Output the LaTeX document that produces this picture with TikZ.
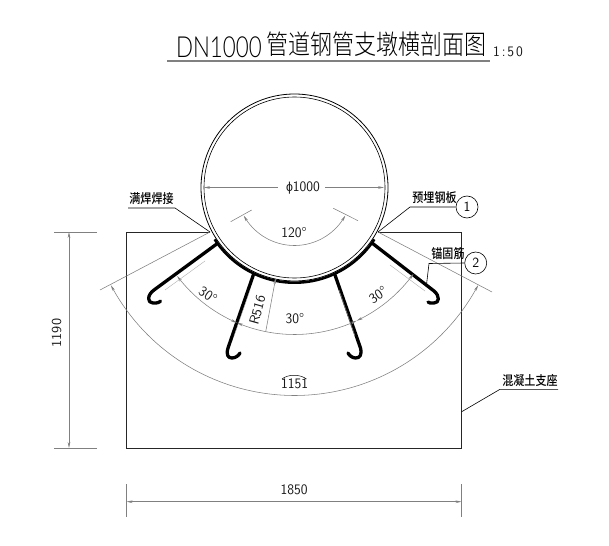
\documentclass[tikz,border=0pt]{standalone}
\usepackage{fontspec}
\usetikzlibrary{arrows.meta}
\newfontfamily\cjkmed{Noto Sans CJK SC Medium}
\newfontfamily\cjklight{Noto Sans CJK SC Light}
\newfontfamily\latlight{Lato Light}
\newfontfamily\libs{Liberation Sans}
\tikzset{
  dimline/.style={draw=black!50,line width=0.55pt},
  dimarr/.style={dimline,{Stealth[length=6pt,width=2.6pt]}-{Stealth[length=6pt,width=2.6pt]}},
  dimone/.style={dimline,-{Stealth[length=6pt,width=2.6pt]}},
  leader/.style={draw=black,line width=0.6pt},
  outline/.style={draw=black!85,line width=0.8pt},
  rebar/.style={draw=black,line width=3.3pt,line cap=round,line join=round},
  rebarcore/.style={draw=black!35,line width=0.35pt},
  dimtext/.style={font=\sffamily\fontsize{14.5}{15}\selectfont,inner sep=0pt,xscale=.95,text=black!90},
  titlelatin/.style={font=\latlight\fontsize{29}{30}\selectfont,inner sep=0pt,anchor=base west,xscale=.77},
  titlecjk/.style={font=\cjklight\fontsize{27}{27}\selectfont,inner sep=0pt,xscale=.815,anchor=west},
  callout/.style={font=\cjkmed\fontsize{13}{14}\selectfont,inner sep=0pt,xscale=.85,text=black},
  bubble/.style={circle,draw=black,line width=0.6pt,minimum size=22pt,inner sep=0pt,font=\sffamily\fontsize{14}{14}\selectfont},
}
\begin{document}
\begin{tikzpicture}[x=1pt,y=-1pt]
\fill[white] (0,0) rectangle (609,545);
\useasboundingbox (0,0) rectangle (609,545);
% reference points
\coordinate (c) at (294.5,187.5);
\coordinate (rtl) at (126.5,232);
\coordinate (rtr) at (461.5,232);
\coordinate (rbl) at (126.5,448);
\coordinate (rbr) at (461.5,448);
\coordinate (wl) at (210,232);
\coordinate (wr) at (378,232);
% title
\node[titlelatin] (t1) at (176,58) {DN1000};
\node[titlecjk] (t2) at (266,44) {管道钢管支墩横剖面图};
\node[dimtext,xscale=1,anchor=west] (t3) at (493,52) {1\kern2pt:\kern2pt5\kern2pt0};
\coordinate (ua) at (167,61); \coordinate (ub) at (490,61);
\draw[draw=black!50,line width=2.2pt] (ua) -- (ub);
% concrete support
\draw[outline] (wl) -- (rtl) -- (rbl) -- (rbr) -- (rtr) -- (wr);
% pipe
\node[circle,draw=black,line width=0.8pt,minimum size=187pt,inner sep=0pt] (pipe) at (c) {};
\node[circle,draw=black,line width=0.6pt,minimum size=181pt,inner sep=0pt] (pipein) at (c) {};
% embedded plate
\draw[draw=black,line width=2.6pt] plot[domain=33:147,samples=60] ({294.5+95.2*cos(\x)},{187.5+95.2*sin(\x)});
% anchors
\draw[rebar] (216.7,244) -- (154,290) .. controls (147,295) and (147,303) .. (153,303) .. controls (157,303.5) and (160,302) .. (160.5,301);
\draw[rebar] (253.3,275) -- (228,348) .. controls (226,355) and (228,358) .. (232,358) .. controls (236,358) and (239,355) .. (240,353);
\draw[rebar] (335,275) -- (360.5,348) .. controls (362,355) and (360,358) .. (355.5,358) .. controls (352,358) and (349,355) .. (348,353);
\draw[rebar] (372,243) -- (434,291) .. controls (440,296) and (439.5,303) .. (434,303) .. controls (431,303.5) and (429,303) .. (428,302);
\draw[rebarcore] (205,261) -- (165,290);
\draw[rebarcore] (250,290) -- (234,336);
\draw[rebarcore] (339,290) -- (355,336);
\draw[rebarcore] (390,265) -- (425,291);
% angle dimension: radial lines
\coordinate (ral) at (100,290); \coordinate (rar) at (492,292);
\draw[dimline] (wl) -- (ral);
\draw[dimline] (wr) -- (rar);
% big arc
\draw[dimarr] plot[domain=28:152,samples=80] ({294.5+208*cos(\x)},{187.5+208*sin(\x)});
% 30 degree arcs
\draw[dimarr] plot[domain=36:65,samples=20] ({294.5+147*cos(\x)},{187.5+147*sin(\x)});
\draw[dimarr] plot[domain=65:113,samples=30] ({294.5+147*cos(\x)},{187.5+147*sin(\x)});
\draw[dimarr] plot[domain=113:143,samples=20] ({294.5+147*cos(\x)},{187.5+147*sin(\x)});
% 120 degree
\coordinate (ta) at (230.7,221.7); \coordinate (tb) at (251.7,210);
\coordinate (tc) at (333.3,208.3); \coordinate (td) at (358,220.7);
\draw[dimline] (ta) -- (tb);
\draw[dimline] (tc) -- (td);
\draw[dimarr] plot[domain=29:151,samples=50] ({294.5+58*cos(\x)},{187.5+58*sin(\x)});
% phi dimension
\node[dimtext] (phi) at (303,187.5) {{\libs\fontsize{13}{13}\selectfont ϕ}1000};
\coordinate (pl) at (204,187.5); \coordinate (pr) at (384,187.5);
\draw[dimone] (phi.west) ++(-8,0) -- (pl);
\draw[dimone] (phi.east) ++(5,0) -- (pr);
% R516
\coordinate (ra) at (265.7,331.7); \coordinate (rb) at (275.7,278);
\draw[dimone] (ra) -- (rb);
\node[dimtext,rotate=75] (r516) at (257.5,310) {R516};
% labels
\node[dimtext,rotate=-35] (a1) at (208,295) {30°};
\node[dimtext] (a2) at (295,319) {30°};
\node[dimtext,rotate=35] (a3) at (378,295) {30°};
\node[dimtext] (a4) at (294,232.5) {120°};
\node[dimtext] (a5) at (294.5,384) {1151};
\coordinate (sa) at (282,379); \coordinate (sb) at (306.5,379);
\draw[draw=black,line width=0.5pt] (sa) .. controls (288,374) and (300,374) .. (sb);
% overall dimensions
\coordinate (va) at (69,232); \coordinate (vb) at (69,448);
\coordinate (ea) at (54,232); \coordinate (eb) at (97,232);
\coordinate (ec) at (54,448); \coordinate (ed) at (97,448);
\draw[dimline] (ea) -- (eb);
\draw[dimline] (ec) -- (ed);
\draw[dimarr] (va) -- (vb);
\node[dimtext,rotate=90] (h) at (56.5,333) {1190};
\coordinate (ha) at (126.5,501.7); \coordinate (hb) at (461.5,501.7);
\coordinate (ee) at (126.5,484); \coordinate (ef) at (126.5,517);
\coordinate (eg) at (461.5,484); \coordinate (eh) at (461.5,517);
\draw[dimline] (ee) -- (ef);
\draw[dimline] (eg) -- (eh);
\draw[dimarr] (ha) -- (hb);
\node[dimtext] (w) at (294,490) {1850};
% callouts
\node[callout] (c1) at (151.5,199) {满焊焊接};
\coordinate (l1a) at (128,208); \coordinate (l1b) at (175,208);
\draw[leader] (l1a) -- (l1b) -- (wl);
\node[callout] (c2) at (434.5,198) {预埋钢板};
\node[bubble] (b1) at (467,207) {1};
\coordinate (l2) at (410,207);
\draw[leader] (wr) -- (l2) -- (b1.west);
\node[callout] (c3) at (448,254) {锚固筋};
\node[bubble] (b2) at (475.7,263) {2};
\coordinate (l3a) at (426.7,283); \coordinate (l3b) at (429,263.5);
\draw[leader] (l3a) -- (l3b) -- (b2.west);
\node[callout] (c4) at (530,380.5) {混凝土支座};
\coordinate (l4a) at (461.7,411.7); \coordinate (l4b) at (500,389.3); \coordinate (l4c) at (558,389.3);
\draw[leader] (l4a) -- (l4b) -- (l4c);
\end{tikzpicture}
\end{document}
